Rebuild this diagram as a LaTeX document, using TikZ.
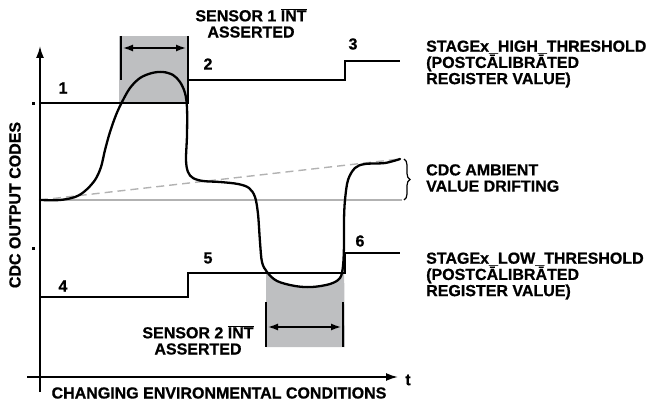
\documentclass[tikz,border=0pt]{standalone}
\usepackage{fontspec}
\setmainfont{Liberation Sans}[BoldFeatures={FakeBold=0.8}]
\usetikzlibrary{arrows.meta,decorations.pathreplacing}
\definecolor{shade_gray}{RGB}{190,191,193}
\definecolor{base_gray}{RGB}{178,178,178}
\begin{document}
\begin{tikzpicture}[x=1pt,y=-1pt,
	label_text/.style={inner sep=0pt,font=\fontsize{16}{16.2}\selectfont\bfseries},
	side_text/.style={label_text,anchor=west,align=left},
	thr_line/.style={line width=1.7pt,line join=miter},
	axis_line/.style={line width=1.8pt,-{Latex[length=12pt,width=8pt]}},
	span_arrow/.style={line width=1.4pt,{Latex[length=10pt,width=7pt]}-{Latex[length=10pt,width=7pt]}},
	span_mark/.style={line width=1.1pt}]

		\useasboundingbox (0,0) rectangle (649,404);

		% shaded intervals
		\fill[shade_gray] (119,36) rectangle (188,103);
		\fill[shade_gray] plot[smooth] coordinates {(266,271) (277,281) (295,286) (312,287) (330,284) (340,278) (344,262)} -- (345,347) -- (266,347) -- cycle;

		% ambient level and drift
		\draw[base_gray,line width=1.5pt] (40,200) -- (402,200);
		\draw[base_gray,line width=1.4pt,dash pattern=on 8pt off 5pt] (40,200) -- (400,159);

		% thresholds
		\draw[thr_line] (40,103) -- (188,103) -- (188,80) -- (345,80) -- (345,61) -- (400,61);
		\draw[thr_line] (40,297) -- (188,297) -- (188,273) -- (345,273) -- (345,253) -- (400,253);

		% axes
		\draw[axis_line] (40,392) -- (40,46);
		\draw[axis_line] (27,377) -- (398,377);
		\fill (32,102) rectangle (35,105);
		\fill (32,247) rectangle (35,250);

		% sensor output
		\draw[line width=2.3pt,line cap=round] plot[smooth,tension=0.55] coordinates {(40,200) (60,200) (75,197) (85,191) (95,180) (101,167) (105,150) (110,132) (116,115) (122,102) (130,88) (140,78) (152,73) (163,72) (173,75) (180,82) (185,93) (187,108) (187,135) (186,160) (188,172) (193,178) (203,181) (220,182) (238,184) (249,188) (255,197) (258,214) (260,242) (262,262) (267,272) (277,281) (295,286) (312,287) (330,284) (340,278) (343,266) (344,245) (344,220) (345,200) (348,180) (355,168) (365,164) (385,163) (400,159)};

		% interrupt spans
		\draw[span_mark] (121,36) -- (121,80);
		\draw[span_mark] (188,36) -- (188,103);
		\draw[span_arrow] (123,48) -- (186,48);
		\draw[span_mark] (266,302) -- (266,347);
		\draw[span_mark] (343,302) -- (343,347);
		\draw[span_arrow] (268,327) -- (341,327);

		% drift brace
		\draw[line width=1.2pt,decorate,decoration={brace,amplitude=6pt}] (404,159) -- (404,200);

		% labels
		\node[label_text] (n1) at (63,88) {1};
		\node[label_text] (n2) at (208,64) {2};
		\node[label_text] (n3) at (353,44) {3};
		\node[label_text] (n4) at (63,286) {4};
		\node[label_text] (n5) at (208,258) {5};
		\node[label_text] (n6) at (360,241) {6};
		\node[label_text,align=center] (sens1) at (251,23) {SENSOR 1 $\overline{\mbox{INT}}$\\ASSERTED};
		\node[label_text,align=center] (sens2) at (198,340) {SENSOR 2 $\overline{\mbox{INT}}$\\ASSERTED};
		\node[side_text] (high) at (426,64) {STAGEx\_HIGH\_THRESHOLD\\(POSTCĀLIBRĀTED\\REGISTER VALUE)};
		\node[side_text] (low) at (426,276) {STAGEx\_LOW\_THRESHOLD\\(POSTCĀLIBRĀTED\\REGISTER VALUE)};
		\node[side_text] (drift) at (426,178) {CDC AMBIENT\\VALUE DRIFTING};
		\node[label_text,rotate=90] (ylab) at (15,205) {CDC OUTPUT CODES};
		\node[label_text] (xlab) at (219,393) {CHANGING ENVIRONMENTAL CONDITIONS};
		\node[label_text] (tlab) at (408,380) {t};
\end{tikzpicture}
\end{document}
